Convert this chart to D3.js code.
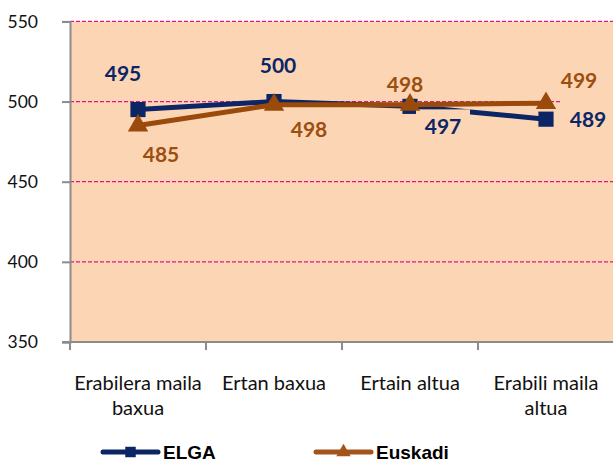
<!DOCTYPE html>
<html>
<head>
<meta charset="utf-8">
<script src="https://cdn.jsdelivr.net/npm/d3@7"></script>
<style>
  body { margin: 0; background: #fff; }
  svg { display: block; }
</style>
</head>
<body>
<svg id="chart" width="613" height="463"></svg>
<script>
// Chart data
const categories = ["Erabilera maila baxua", "Ertan baxua", "Ertain altua", "Erabili maila altua"];
const catLines = [["Erabilera maila", "baxua"], ["Ertan baxua"], ["Ertain altua"], ["Erabili maila", "altua"]];
const elga = [495, 500, 497, 489];
const euskadi = [485, 498, 498, 499];
const yTicks = [350, 400, 450, 500, 550];
const gridTicks = [400, 450, 500, 550];

// Colours
const plotFill = "#fcd5b5";
const elgaCol = "#0b2565";
const euskCol = "#9a4a0a";
const gridCol = "#e0168a";
const axisCol = "#8c8c8c";

// label offsets from each point (px), picked by eye
const elgaLab = [[-15, -36], [4, -36], [33, 20], [42, 0]];
const euskLab = [[23, 29], [35, 25], [-5, -20], [33, -23]];
// data labels that hide what's behind them (series, index, padX, padY)
const boxed = [["elga", 2, 9, 9], ["elga", 3, 9, 12]];

const svg = d3.select("#chart");
const pLeft = 70, pRight = 614, pTop = 21.4, pBottom = 342;

const x = d3.scaleBand().domain(categories).range([pLeft, pRight]);
const cx = c => x(c) + x.bandwidth() / 2;
const y = d3.scaleLinear().domain([350, 550]).range([pBottom, pTop]);

// plot area background
svg.append("rect")
    .attr("x", pLeft).attr("y", pTop)
    .attr("width", pRight - pLeft).attr("height", pBottom - pTop)
    .attr("fill", plotFill);

// dashed gridlines
svg.append("g").selectAll("line")
    .data(gridTicks)
    .enter()
    .append("line")
    .attr("x1", pLeft).attr("x2", 613)
    .attr("y1", d => y(d)).attr("y2", d => y(d))
    .attr("stroke", gridCol)
    .attr("stroke-width", 1.2)
    .attr("stroke-dasharray", "4,2");

// y axis
const yAxis = svg.append("g")
    .attr("transform", `translate(${pLeft},0)`)
    .call(d3.axisLeft(y).tickValues(yTicks).tickSize(8).tickSizeOuter(8).tickPadding(24));
yAxis.select(".domain").attr("stroke", axisCol).attr("stroke-width", 2);
yAxis.selectAll(".tick line").attr("stroke", axisCol).attr("stroke-width", 2);
yAxis.selectAll(".tick text")
    .attr("font-family", "Lato, sans-serif")
    .attr("font-size", "17.5px")
    .attr("fill", "#111");

// x axis (ticks sit between categories)
const xAxis = svg.append("g");
xAxis.append("line")
    .attr("x1", pLeft - 8).attr("x2", 613)
    .attr("y1", pBottom).attr("y2", pBottom)
    .attr("stroke", axisCol).attr("stroke-width", 2);
xAxis.selectAll(".xt")
    .data(categories)
    .enter()
    .append("line")
    .attr("x1", d => x(d)).attr("x2", d => x(d))
    .attr("y1", pBottom).attr("y2", pBottom + 8)
    .attr("stroke", axisCol).attr("stroke-width", 2);
xAxis.selectAll(".xl")
    .data(categories)
    .enter()
    .append("text")
    .attr("font-family", "Lato, sans-serif")
    .attr("font-size", "20px")
    .attr("fill", "#111")
    .attr("text-anchor", "middle")
    .each(function(d, i) {
        const t = d3.select(this);
        catLines[i].forEach((ln, j) => {
            t.append("tspan").attr("x", cx(d)).attr("y", 390 + j * 25).text(ln);
        });
    });

const line = d3.line().x((d, i) => cx(categories[i])).y(d => y(d));

function drawSeries(vals, col, shape) {
    svg.append("path")
        .datum(vals)
        .attr("d", line)
        .attr("fill", "none")
        .attr("stroke", col)
        .attr("stroke-width", 5)
        .attr("stroke-linejoin", "round");
    svg.append("g").selectAll("path")
        .data(vals)
        .enter()
        .append("path")
        .attr("transform", (d, i) => `translate(${cx(categories[i])},${y(d)})`)
        .attr("d", d3.symbol().type(shape).size(shape === d3.symbolSquare ? 230 : 180))
        .attr("fill", col);
}

function boxFor(vals, offs, i, px, py) {
    const lx = cx(categories[i]) + offs[i][0], ly = y(vals[i]) + offs[i][1];
    svg.append("rect")
        .attr("x", lx - 18 - px).attr("y", ly - 8 - py)
        .attr("width", 36 + 2 * px).attr("height", 16 + 2 * py)
        .attr("fill", plotFill);
}

drawSeries(elga, elgaCol, d3.symbolSquare);
boxed.forEach(b => {
    if (b[0] === "elga") boxFor(elga, elgaLab, b[1], b[2], b[3]);
    else boxFor(euskadi, euskLab, b[1], b[2], b[3]);
});
drawSeries(euskadi, euskCol, d3.symbolTriangle);

function drawLabels(vals, offs, col) {
    svg.append("g").selectAll("text")
        .data(vals)
        .enter()
        .append("text")
        .attr("x", (d, i) => cx(categories[i]) + offs[i][0])
        .attr("y", (d, i) => y(d) + offs[i][1] + 7.6)
        .attr("text-anchor", "middle")
        .attr("font-family", "Lato, sans-serif")
        .attr("font-weight", "bold")
        .attr("font-size", "21px")
        .attr("fill", col)
        .text(d => d);
}
drawLabels(elga, elgaLab, elgaCol);
drawLabels(euskadi, euskLab, "#9c4e0e");

// legend
const legend = [
    { name: "ELGA", col: elgaCol, shape: d3.symbolSquare, size: 110, x: 103 },
    { name: "Euskadi", col: "#a4541a", shape: d3.symbolTriangle, size: 90, x: 316 }
];
const lg = svg.append("g").selectAll("g")
    .data(legend)
    .enter()
    .append("g")
    .attr("transform", d => `translate(${d.x},452)`);
lg.append("line")
    .attr("x1", 0).attr("x2", 55)
    .attr("stroke", d => d.col)
    .attr("stroke-width", 5)
    .attr("stroke-linecap", "round");
lg.append("path")
    .attr("transform", "translate(27.5,0)")
    .attr("d", d => d3.symbol().type(d.shape).size(d.size)())
    .attr("fill", d => d.col);
lg.append("text")
    .attr("x", 60).attr("y", 7)
    .attr("font-family", "'Liberation Sans', Arial, sans-serif")
    .attr("font-weight", "bold")
    .attr("font-size", "19px")
    .attr("fill", "#000")
    .text(d => d.name);
</script>
</body>
</html>
